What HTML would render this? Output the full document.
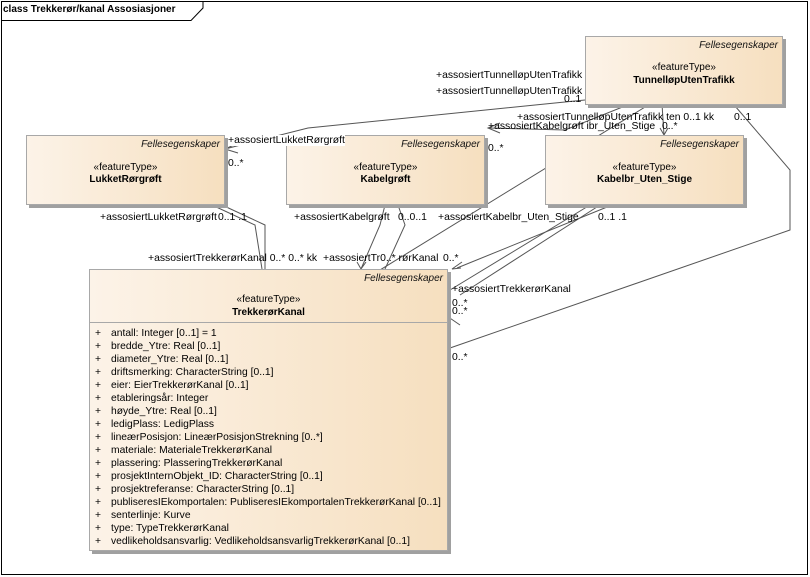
<!DOCTYPE html>
<html><head><meta charset="utf-8"><style>
body{margin:0;width:810px;height:577px;background:#fff;position:relative;overflow:hidden;font-family:"Liberation Sans",sans-serif;}
.box{position:absolute;border:1px solid #a8a8a8;background:linear-gradient(to right,#fcf3e8,#f6dfbf);box-shadow:3px 3px 0 #a0a0a0;box-sizing:border-box;}
.st{position:absolute;right:4px;top:3px;font-style:italic;font-size:10px;color:#111;}
.ft{position:absolute;left:0;right:0;text-align:center;font-size:10px;color:#000;}
.nm{position:absolute;left:0;right:0;text-align:center;font-size:10px;font-weight:bold;}
.t{position:absolute;font-size:10.4px;white-space:nowrap;color:#000;line-height:11px;}
.attr{position:absolute;left:5px;font-size:10.3px;white-space:nowrap;line-height:13px;}
.attr span{display:inline-block;width:16px;}
</style></head><body>
<svg width="810" height="577" style="position:absolute;left:0;top:0">
<rect x="1.5" y="1.5" width="806" height="573" fill="none" stroke="#000"/>
<path d="M1.5 20.5 H191 L203 8 V1.5" fill="none" stroke="#000"/>
<g stroke="#555" fill="none" stroke-width="1">
<path d="M585 100 L545 104 L308 128 L225 149"/>
<path d="M238 143 L225 149 L238 153"/>
<path d="M630 104 L565 130 L488 128"/>
<path d="M500 123 L488 128 L500 133"/>
<path d="M662 104 L664 135 M660 128 L664 135 L668 128"/>
<path d="M650 104 L380 270 L460 325"/>
<path d="M735 106 L790 170 L790 230 L450 348"/>
<path d="M222 205 L265 225 L265 269"/>
<path d="M212 205 L255 225 L262 269"/>
<path d="M385 205 L380 225 L361 269 M357 262 L361 269 L366 262"/>
<path d="M398 205 L405 225 L385 269"/>
<path d="M590 205 L450 290"/>
<path d="M600 205 L460 295"/>
<path d="M612 205 L457 268 M462 262 L452 269 L461 268"/>
</g>
</svg>
<div class="box" style="left:585px;top:36px;width:198px;height:69px"><div class="st">Fellesegenskaper</div><div class="ft" style="top:25px">«featureType»</div><div class="nm" style="top:38px">TunnelløpUtenTrafikk</div></div>
<div class="box" style="left:26px;top:135px;width:199px;height:70px"><div class="st">Fellesegenskaper</div><div class="ft" style="top:26px">«featureType»</div><div class="nm" style="top:38px">LukketRørgrøft</div></div>
<div class="box" style="left:286px;top:135px;width:199px;height:70px"><div class="st">Fellesegenskaper</div><div class="ft" style="top:26px">«featureType»</div><div class="nm" style="top:38px">Kabelgrøft</div></div>
<div class="box" style="left:545px;top:135px;width:199px;height:70px"><div class="st">Fellesegenskaper</div><div class="ft" style="top:26px">«featureType»</div><div class="nm" style="top:38px">Kabelbr_Uten_Stige</div></div>
<div class="box" style="left:89px;top:269px;width:359px;height:282px"><div class="st">Fellesegenskaper</div><div class="ft" style="top:24px">«featureType»</div><div class="nm" style="top:37px">TrekkerørKanal</div>
<div style="position:absolute;left:0;right:0;top:52px;border-top:1px solid #a8a8a8"></div>
<div style="position:absolute;top:57px;left:0">
<div class="attr" style="position:relative"><span>+</span>antall: Integer [0..1] = 1</div>
<div class="attr" style="position:relative"><span>+</span>bredde_Ytre: Real [0..1]</div>
<div class="attr" style="position:relative"><span>+</span>diameter_Ytre: Real [0..1]</div>
<div class="attr" style="position:relative"><span>+</span>driftsmerking: CharacterString [0..1]</div>
<div class="attr" style="position:relative"><span>+</span>eier: EierTrekkerørKanal [0..1]</div>
<div class="attr" style="position:relative"><span>+</span>etableringsår: Integer</div>
<div class="attr" style="position:relative"><span>+</span>høyde_Ytre: Real [0..1]</div>
<div class="attr" style="position:relative"><span>+</span>ledigPlass: LedigPlass</div>
<div class="attr" style="position:relative"><span>+</span>lineærPosisjon: LineærPosisjonStrekning [0..*]</div>
<div class="attr" style="position:relative"><span>+</span>materiale: MaterialeTrekkerørKanal</div>
<div class="attr" style="position:relative"><span>+</span>plassering: PlasseringTrekkerørKanal</div>
<div class="attr" style="position:relative"><span>+</span>prosjektInternObjekt_ID: CharacterString [0..1]</div>
<div class="attr" style="position:relative"><span>+</span>prosjektreferanse: CharacterString [0..1]</div>
<div class="attr" style="position:relative"><span>+</span>publiseresIEkomportalen: PubliseresIEkomportalenTrekkerørKanal [0..1]</div>
<div class="attr" style="position:relative"><span>+</span>senterlinje: Kurve</div>
<div class="attr" style="position:relative"><span>+</span>type: TypeTrekkerørKanal</div>
<div class="attr" style="position:relative"><span>+</span>vedlikeholdsansvarlig: VedlikeholdsansvarligTrekkerørKanal [0..1]</div>
</div></div>
<div style="position:absolute;left:3px;top:4px;font-size:10px;font-weight:bold">class Trekkerør/kanal Assosiasjoner</div>
<div class="t" style="left:436px;top:70px">+assosiertTunnelløpUtenTrafikk</div>
<div class="t" style="left:436px;top:86px">+assosiertTunnelløpUtenTrafikk</div>
<div class="t" style="left:564px;top:94px">0..1</div>
<div class="t" style="left:228px;top:135px;background:#fff">+assosiertLukketRørgrøft</div>
<div class="t" style="left:228px;top:158px">0..*</div>
<div class="t" style="left:488px;top:121px">+assosiertKabelgrøft ibr_Uten_Stige</div>
<div class="t" style="left:517px;top:112px">+assosiertTunnelløpUtenTrafikk ten 0..1 kk</div>
<div class="t" style="left:662px;top:121px">0..*</div>
<div class="t" style="left:488px;top:143px">0..*</div>
<div class="t" style="left:734px;top:112px">0..1</div>
<div class="t" style="left:100px;top:212px">+assosiertLukketRørgrøft</div>
<div class="t" style="left:218px;top:212px">0..1 .1</div>
<div class="t" style="left:294px;top:212px">+assosiertKabelgrøft</div>
<div class="t" style="left:398px;top:212px">0..0..1</div>
<div class="t" style="left:438px;top:212px">+assosiertKabelbr_Uten_Stige</div>
<div class="t" style="left:598px;top:212px">0..1 .1</div>
<div class="t" style="left:148px;top:253px">+assosiertTrekkerørKanal 0..* 0..* kk</div>
<div class="t" style="left:323px;top:253px">+assosiertTr0..* rørKanal</div>
<div class="t" style="left:443px;top:253px">0..*</div>
<div class="t" style="left:452px;top:284px">+assosiertTrekkerørKanal</div>
<div class="t" style="left:452px;top:298px">0..*</div>
<div class="t" style="left:452px;top:306px">0..*</div>
<div class="t" style="left:452px;top:352px">0..*</div>
</body></html>
